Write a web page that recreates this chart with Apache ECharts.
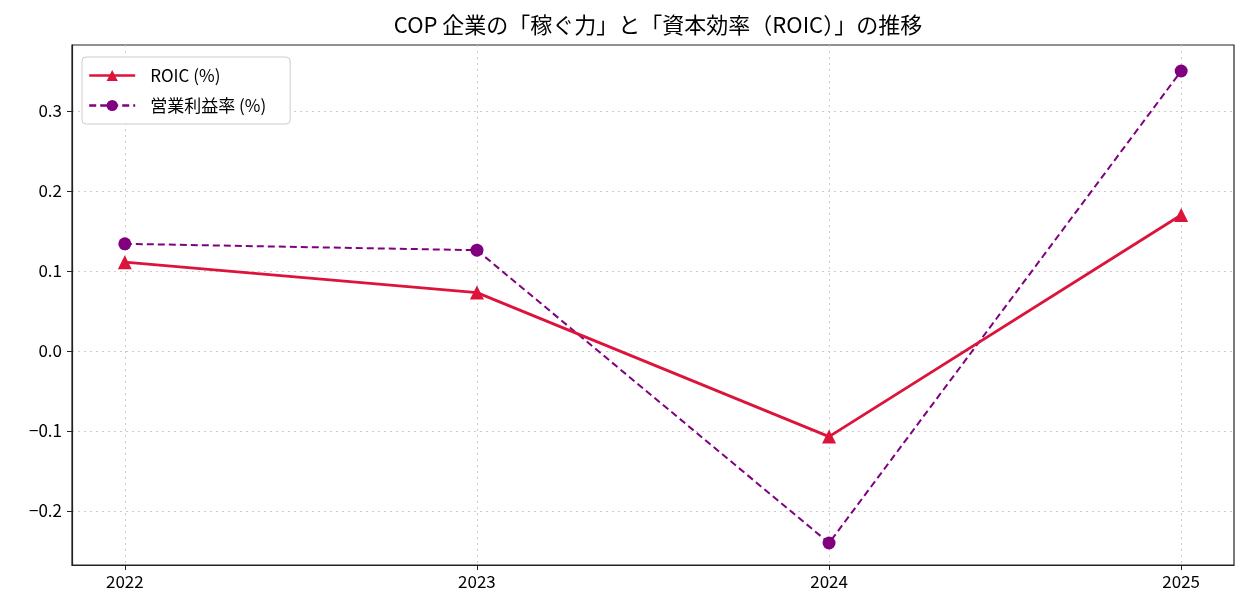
<!DOCTYPE html>
<html>
<head>
<meta charset="utf-8">
<script src="https://cdn.jsdelivr.net/npm/echarts@6/dist/echarts.min.js"></script>
<style>
  html, body { margin: 0; padding: 0; background: #fff; }
  #chart { width: 1249px; height: 616px; }
</style>
</head>
<body>
<div id="chart"></div>
<script>
// data
const years = [2022, 2023, 2024, 2025];
const roic = [0.111, 0.073, -0.107, 0.170];
const opMargin = [0.134, 0.126, -0.240, 0.350];
const yTicks = [-0.2, -0.1, 0.0, 0.1, 0.2, 0.3];
const seriesNames = ['ROIC (%)', '営業利益率 (%)'];
const titleText = 'COP 企業の「稼ぐ力」と「資本効率（ROIC）」の推移';

const font = '"Noto Sans CJK JP", "DejaVu Sans", sans-serif';
const gridLine = { show: true, lineStyle: { color: '#cccccc', type: [2, 4], width: 1 } };

const chart = echarts.init(document.getElementById('chart'));

const toPairs = arr => arr.map((v, i) => [years[i], v]);

const option = {
  backgroundColor: '#fff',
  animation: false,
  title: {
    text: titleText,
    left: 653,
    textAlign: 'center',
    top: 9,
    textStyle: { fontFamily: font, fontSize: 22, fontWeight: 'normal', color: '#000' }
  },
  legend: {
    orient: 'vertical',
    left: 82,
    top: 57,
    padding: [10, 24, 10, 6],
    itemGap: 13,
    itemWidth: 46,
    itemHeight: 14,
    backgroundColor: '#fff',
    borderColor: '#cccccc',
    borderWidth: 1,
    borderRadius: 4,
    lineStyle: { width: 2.4 },
    textStyle: { fontFamily: font, fontSize: 17, color: '#000', padding: [0, 0, 0, 10] },
    data: seriesNames
  },
  grid: {
    left: 72, right: 15, top: 45, bottom: 51,
    show: true, borderColor: '#222', borderWidth: 1.2, backgroundColor: '#fff'
  },
  xAxis: {
    type: 'value',
    min: 2021.85,
    max: 2025.15,
    axisLine: { show: true, onZero: false, lineStyle: { color: '#222', width: 1.2 } },
    axisTick: { show: true, length: 5, customValues: years, lineStyle: { color: '#222' } },
    axisLabel: {
      customValues: years,
      fontFamily: font, fontSize: 17, color: '#000', margin: 8,
      formatter: v => String(Math.round(v))
    },
    splitLine: gridLine
  },
  yAxis: {
    type: 'value',
    min: -0.2675,
    max: 0.3825,
    axisLine: { show: true, onZero: false, lineStyle: { color: '#222', width: 1.2 } },
    axisTick: { show: true, length: 5, customValues: yTicks, lineStyle: { color: '#222' } },
    axisLabel: {
      customValues: yTicks,
      fontFamily: font, fontSize: 17, color: '#000', margin: 10,
      formatter: v => (v < -1e-9 ? '\u2212' : '') + Math.abs(v).toFixed(1)
    },
    splitLine: gridLine
  },
  series: [
    {
      name: seriesNames[0],
      type: 'line',
      data: toPairs(roic),
      symbol: 'triangle',
      symbolSize: 14,
      lineStyle: { color: '#DC143C', width: 2.8 },
      itemStyle: { color: '#DC143C' },
      z: 3
    },
    {
      name: seriesNames[1],
      type: 'line',
      data: toPairs(opMargin),
      symbol: 'circle',
      symbolSize: 13,
      lineStyle: { color: '#800080', width: 2, type: [7, 4] },
      itemStyle: { color: '#800080' },
      z: 2
    }
  ]
};

chart.setOption(option);
</script>
</body>
</html>
